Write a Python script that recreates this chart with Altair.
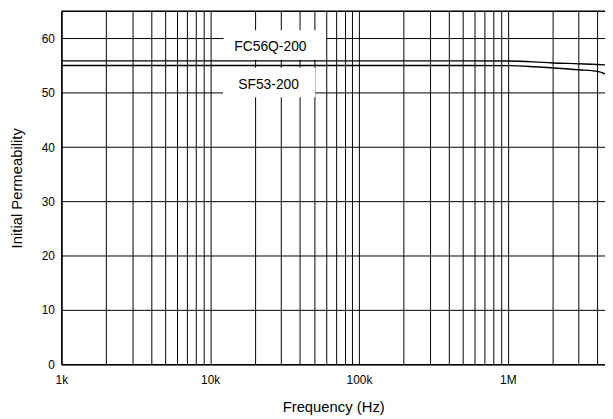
import altair as alt
import pandas as pd

# Curve data
freq_fc = [1e3, 1e4, 1e5, 5e5, 1e6, 1.5e6, 2e6, 3e6, 4e6, 4.5e6]
mu_fc = [55.87, 55.87, 55.87, 55.87, 55.85, 55.7, 55.5, 55.35, 55.21, 55.14]
freq_sf = [1e3, 1e4, 1e5, 5e5, 1e6, 1.5e6, 2e6, 3e6, 4e6, 4.5e6]
mu_sf = [55.03, 55.03, 55.03, 55.03, 55.0, 54.8, 54.59, 54.25, 53.94, 53.5]

# Grid / ticks
x_grid = [m * 10 ** e for e in range(3, 7) for m in range(1, 10) if m * 10 ** e <= 4.5e6]
y_grid = list(range(0, 70, 5))
y_top = [65]

# Annotation labels
lab_names = ["FC56Q-200", "SF53-200"]
lab_x = [25400, 24700]
lab_y = [58.4, 51.5]
box_x = [12300, 12200]
box_x2 = [60000, 50900]
box_y = [56.1, 49.2]
box_y2 = [61.5, 54.6]

curves = pd.DataFrame({
    "f": freq_fc + freq_sf,
    "mu": mu_fc + mu_sf,
    "s": ["FC56Q-200"] * len(freq_fc) + ["SF53-200"] * len(freq_sf),
})
labels = pd.DataFrame({"name": lab_names, "x": lab_x, "y": lab_y,
                       "bx": box_x, "bx2": box_x2, "by": box_y, "by2": box_y2})
top = pd.DataFrame({"y": y_top})

FONT = "Liberation Sans"

xscale = alt.Scale(type="log", domain=[1000, 4.5e6], nice=False)
yscale = alt.Scale(domain=[0, 65], nice=False, zero=True)

label_expr_x = ("datum.value == 1000 ? '1k' : datum.value == 10000 ? '10k' : "
                "datum.value == 100000 ? '100k' : datum.value == 1000000 ? '1M' : ''")

xaxis = alt.Axis(values=x_grid, grid=True, gridColor="black", gridOpacity=1, gridWidth=1,
                 ticks=False, labelExpr=label_expr_x, labelFont=FONT, labelFontSize=12,
                 labelColor="black", labelPadding=10, title="Frequency (Hz)",
                 titleFont=FONT, titleFontSize=15, titleFontWeight="normal",
                 titleColor="black", titlePadding=15, domainColor="black", domainWidth=1.5,
                 labelOverlap=False, labelFlush=False)
yaxis = alt.Axis(values=y_grid, grid=True, gridColor="black", gridOpacity=1, gridWidth=1,
                 ticks=False, labelExpr="datum.value % 10 == 0 ? datum.label : ''",
                 labelFont=FONT, labelFontSize=12, labelColor="black", labelPadding=7,
                 title="Initial Permeability", titleFont=FONT, titleFontSize=15,
                 titleFontWeight="normal", titleColor="black", titlePadding=17,
                 domainColor="black", domainWidth=1.5, labelOverlap=False)

boxes = alt.Chart(labels).mark_rect(color="white", opacity=1).encode(
    x=alt.X("bx:Q", scale=xscale, axis=xaxis),
    x2="bx2:Q",
    y=alt.Y("by:Q", scale=yscale, axis=yaxis),
    y2="by2:Q",
)
texts = alt.Chart(labels).mark_text(font=FONT, fontSize=14, color="black").encode(
    x=alt.X("x:Q", scale=xscale),
    y=alt.Y("y:Q", scale=yscale),
    text="name:N",
)
top_rule = alt.Chart(top).mark_rule(color="black", strokeWidth=1.5).encode(
    y=alt.Y("y:Q", scale=yscale),
)
lines = alt.Chart(curves).mark_line(color="black", strokeWidth=1.4, interpolate="monotone").encode(
    x=alt.X("f:Q", scale=xscale),
    y=alt.Y("mu:Q", scale=yscale),
    detail="s:N",
)

chart = alt.layer(boxes, texts, top_rule, lines).properties(
    width=550, height=357,
    autosize=alt.AutoSizeParams(type="none"),
    padding={"left": 54, "top": 1, "right": 0, "bottom": 52},
).configure_view(stroke=None)

chart.save("out.html", embed_options={"renderer": "svg", "actions": False})
